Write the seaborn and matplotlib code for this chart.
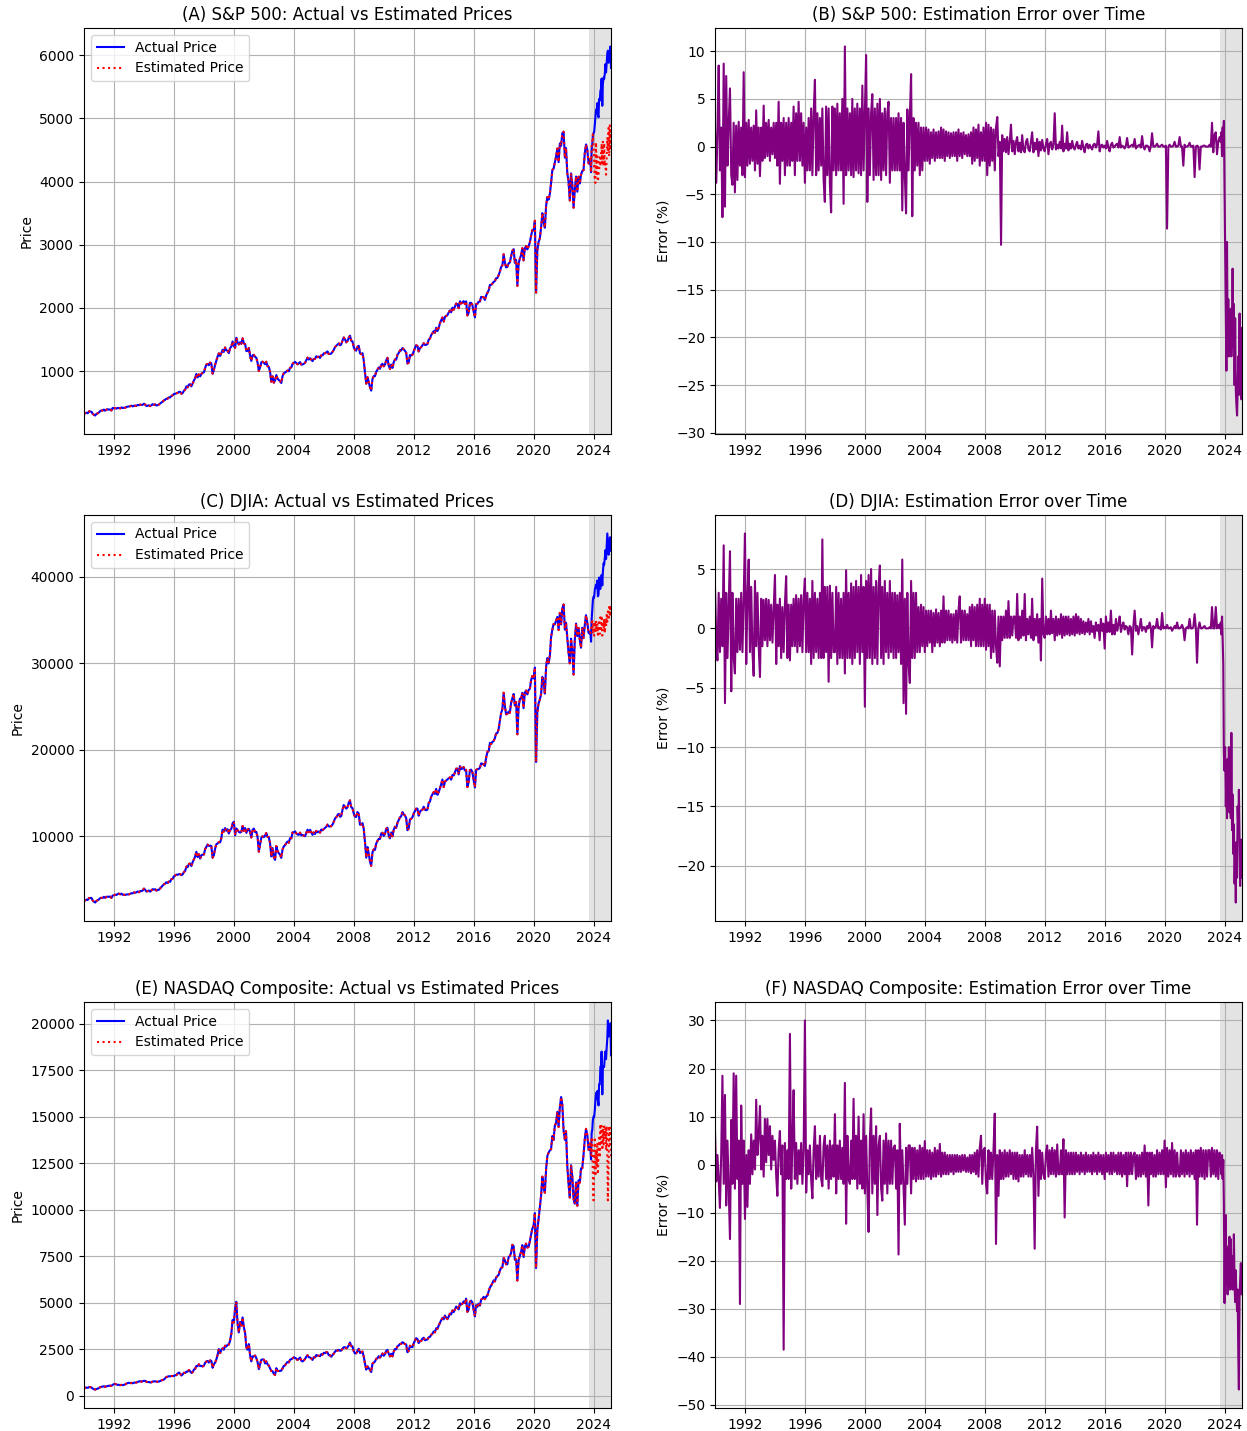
import numpy as np
import pandas as pd
import matplotlib
matplotlib.use("Agg")
import matplotlib.pyplot as plt
import matplotlib.dates as mdates
import seaborn as sns

# ---------------- dates ----------------
IN_DATES = pd.date_range("1990-01-01", "2023-09-01", freq="MS")      # monthly, in-sample
OOS_DATES = pd.date_range("2023-10-01", "2025-03-01", freq="SMS")    # semi-monthly, out-of-sample
SHADE_START = "2023-09-20"
X_START, X_END = "1990-01-01", "2025-03-01"

# ---------------- S&P 500 ----------------
SP_ACTUAL_IN = [
    329, 331, 340, 331, 361, 358, 356, 323, 306, 295, 322, 330,
    344, 367, 375, 375, 390, 371, 388, 395, 388, 392, 375, 417,
    409, 413, 404, 415, 415, 408, 424, 414, 418, 419, 431, 436,
    439, 443, 452, 440, 450, 451, 448, 464, 459, 468, 462, 466,
    482, 467, 446, 451, 457, 444, 458, 475, 463, 472, 454, 459,
    470, 487, 501, 515, 533, 545, 562, 562, 584, 582, 605, 616,
    636, 640, 646, 654, 669, 671, 640, 652, 687, 705, 757, 741,
    786, 791, 757, 801, 848, 885, 954, 899, 947, 915, 955, 970,
    980, 1049, 1102, 1112, 1091, 1134, 1121, 957, 1017, 1099, 1164, 1229,
    1280, 1238, 1286, 1335, 1302, 1373, 1329, 1320, 1283, 1363, 1389, 1469,
    1394, 1366, 1527, 1452, 1421, 1455, 1431, 1518, 1437, 1429, 1315, 1320,
    1366, 1240, 1160, 1249, 1256, 1224, 1211, 1134, 1000, 1060, 1139, 1148,
    1130, 1107, 1147, 1076, 1067, 990, 830, 916, 815, 850, 936, 880,
    856, 841, 810, 917, 964, 975, 990, 1008, 996, 1051, 1058, 1112,
    1131, 1145, 1126, 1107, 1121, 1141, 1102, 1104, 1115, 1130, 1174, 1212,
    1181, 1204, 1181, 1157, 1192, 1191, 1234, 1220, 1229, 1207, 1249, 1248,
    1280, 1281, 1295, 1311, 1270, 1270, 1277, 1304, 1336, 1378, 1401, 1418,
    1438, 1407, 1421, 1482, 1531, 1503, 1455, 1474, 1527, 1560, 1481, 1468,
    1379, 1331, 1323, 1386, 1400, 1280, 1267, 1283, 1166, 969, 800, 903,
    826, 735, 690, 873, 919, 919, 987, 1021, 1057, 1036, 1096, 1115,
    1074, 1104, 1169, 1210, 1089, 1031, 1102, 1049, 1141, 1183, 1181, 1258,
    1286, 1327, 1326, 1364, 1345, 1321, 1292, 1120, 1131, 1253, 1247, 1258,
    1312, 1366, 1408, 1398, 1310, 1362, 1379, 1407, 1441, 1412, 1416, 1426,
    1498, 1515, 1569, 1598, 1631, 1606, 1686, 1633, 1682, 1757, 1806, 1848,
    1783, 1859, 1872, 1884, 1924, 1960, 1931, 2003, 1972, 2018, 2068, 2059,
    1995, 2105, 2068, 2086, 2107, 2063, 2104, 1880, 1920, 2079, 2080, 2044,
    1940, 1850, 2060, 2065, 2097, 2099, 2174, 2171, 2168, 2126, 2199, 2239,
    2279, 2364, 2363, 2384, 2412, 2423, 2470, 2472, 2519, 2575, 2648, 2674,
    2850, 2714, 2641, 2648, 2705, 2718, 2816, 2902, 2930, 2712, 2760, 2350,
    2704, 2784, 2834, 2946, 2752, 2942, 2980, 2926, 2977, 3038, 3141, 3231,
    3226, 3380, 2240, 2912, 3044, 3100, 3271, 3500, 3363, 3270, 3622, 3756,
    3714, 3811, 3973, 4181, 4204, 4298, 4395, 4523, 4308, 4605, 4567, 4766,
    4790, 4380, 4530, 4132, 4000, 3700, 4130, 3955, 3586, 3872, 4080, 3840,
    4077, 3970, 4109, 4169, 4180, 4450, 4589, 4508, 4288,
]
SP_ACTUAL_OOS = [4288, 4330, 4150, 4500, 4594, 4719, 4770, 4784, 4906, 5029, 5137, 5117,
                 5243, 5061, 5018, 5308, 5283, 5432, 5475, 5631, 5200, 5543, 5648, 5626,
                 5709, 5859, 5728, 5870, 6032, 6074, 5882, 5950, 6040, 6140, 5800]
SP_EST_OOS = [4310, 4395, 4150, 4590, 4630, 4750, 4530, 4210, 4020, 3980, 4620, 4090,
              4400, 4000, 4115, 4190, 4385, 4240, 4435, 4600, 4300, 4630, 4240, 4610,
              4250, 4280, 4110, 4370, 4700, 4500, 4850, 4400, 4890, 4500, 4800]
SP_ERR_IN = [
    2.0, -3.8, 1.5, 8.5, -2.5, 2.0, -7.4, 8.7, -6.3, 7.4, -2.0, 2.5,
    6.1, -3.0, -4.0, 2.5, -4.8, 2.2, -3.5, 2.6, -2.0, 2.0, -3.0, 7.8,
    -3.2, 2.5, -2.0, 2.8, -1.8, 2.0, -1.5, 2.2, -2.5, 3.8, -1.8, 2.0,
    -3.1, 2.0, -1.5, 4.3, -1.2, 2.5, -1.0, 2.8, -1.5, 2.0, -0.8, 2.5,
    -1.2, 2.5, -2.0, 4.7, -3.9, 2.5, -1.5, 3.0, -3.0, 2.5, -2.0, 3.0,
    -2.0, 2.5, -1.5, 4.2, -3.0, 3.5, -1.5, 4.7, -1.5, 3.5, -2.0, 2.5,
    -3.8, 2.0, -2.5, 3.0, -2.5, 4.0, -3.0, 3.5, 7.0, -3.0, 3.5, -2.5,
    3.0, -2.0, 4.0, -3.5, -5.8, 4.2, -3.0, 4.0, -4.0, -6.9, 4.2, -2.5,
    4.0, -3.0, 4.5, -2.5, 3.5, -2.5, 5.0, -6.0, 10.5, -3.0, 4.0, -2.5,
    3.5, -3.0, 5.0, -3.2, 4.0, -2.5, 4.5, -2.8, 4.0, -3.0, 6.4, -2.5,
    3.5, 9.6, -5.8, 4.0, -3.0, 3.5, 5.5, -3.5, 4.0, -3.0, 4.5, -3.0,
    5.0, -3.5, 3.5, -2.5, 4.0, -3.0, 3.5, 4.7, -3.8, 3.0, -2.5, 3.0,
    -2.5, 3.0, -2.5, 3.5, -2.5, 3.0, -6.7, 2.5, -3.0, -7.0, 3.9, -2.5,
    3.0, 7.6, -7.3, 3.0, -2.5, 2.5, -2.0, 2.5, -3.0, 2.0, -2.5, 2.0,
    -1.5, 2.0, -1.5, 1.8, -1.8, 1.5, -1.2, 1.8, -1.5, 1.5, -1.2, 1.6,
    -1.2, 2.0, -1.2, 1.8, -1.5, 1.6, -1.0, 1.5, -1.2, 1.4, -1.0, 1.5,
    -1.0, 1.5, -1.5, 1.8, -1.0, 1.4, -1.2, 1.5, -0.8, 1.2, -1.0, 1.3,
    -1.0, 1.5, -1.8, 2.0, -1.5, 1.8, -1.2, 2.3, -2.0, 1.5, -1.5, 2.0,
    -1.5, 2.5, -3.0, 2.3, -2.0, 2.0, -1.5, 1.8, -2.5, 2.0, 3.1, -1.0,
    0.5, -10.3, 1.2, -0.5, 0.8, -0.6, 1.0, -0.8, 0.5, 2.3, -0.5, 0.6,
    -0.8, 0.5, 1.0, -0.5, 0.4, -0.6, 1.2, -0.4, -0.6, 0.5, 0.8, -0.3,
    -0.5, 0.6, 1.5, -0.6, 0.4, -0.3, 0.8, -1.0, 0.5, -0.4, 0.7, -0.2,
    -0.5, 0.3, 0.8, -0.8, 0.3, 0.5, -0.3, 0.2, 3.5, -0.3, 0.2, -0.2,
    0.5, -0.2, 2.2, -0.5, 0.3, -0.2, 1.5, -0.4, 0.3, -0.2, 0.6, -0.1,
    -0.3, 0.2, 0.5, -0.2, 0.1, -0.3, 0.6, -0.1, -0.6, 0.2, 0.3, -0.2,
    0.2, -0.1, -0.3, 0.2, 0.3, -0.1, 0.2, 1.6, -0.5, 0.1, 0.2, -0.1,
    0.1, -0.2, 0.6, -0.1, -0.5, 0.2, 0.4, -0.1, 0.0, 0.2, 0.3, -0.1,
    1.0, -0.1, 0.1, 0.0, -0.2, 0.1, 0.9, -0.1, 0.0, 0.1, 0.2, 0.0,
    0.8, -0.2, 0.0, 0.1, 0.2, -0.1, 1.1, 0.0, -0.3, 0.1, 0.1, 0.0,
    -0.5, 0.1, 1.4, 0.0, 0.0, 0.1, 0.3, 0.0, 0.0, 0.1, 0.2, 0.0,
    0.0, 0.1, -8.6, 0.0, 0.2, 0.0, 0.0, 0.1, 0.5, 0.0, 0.0, 0.1,
    1.0, 0.0, 0.0, -2.0, 0.2, 0.0, 0.0, 0.1, 0.4, 0.0, 0.0, 0.1,
    -3.2, 0.0, 0.1, 0.0, -2.4, 0.0, 0.0, 0.1, 0.1, 0.0, 0.0, 0.0,
    0.2, 0.0, 2.5, -0.6, 1.2, 1.5, -0.8, 0.5, 1.0,
]
SP_ERR_OOS = [0.5, 1.5, -1.0, 2.0, 0.8, 2.7, -5.0, -12.0, -18.0, -23.5, -10.0, -20.0,
              -16.0, -22.0, -18.0, -21.0, -17.0, -22.0, -19.0, -12.8, -21.0, -16.5, -25.0, -18.0,
              -25.5, -27.0, -28.2, -25.5, -22.0, -26.0, -17.5, -26.0, -19.0, -26.5, -21.0]

# ---------------- DJIA ----------------
DJ_ACTUAL_IN = [
    2591, 2627, 2707, 2657, 2877, 2881, 2905, 2614, 2453, 2365, 2560, 2634,
    2736, 2882, 2914, 2888, 3028, 2907, 3025, 3044, 3017, 3069, 2895, 3169,
    3224, 3267, 3236, 3359, 3397, 3319, 3394, 3257, 3272, 3226, 3305, 3301,
    3310, 3371, 3435, 3428, 3527, 3516, 3540, 3651, 3555, 3681, 3684, 3754,
    3978, 3832, 3636, 3682, 3758, 3625, 3765, 3914, 3843, 3908, 3739, 3834,
    3844, 4011, 4158, 4321, 4465, 4556, 4709, 4611, 4789, 4756, 5075, 5117,
    5395, 5486, 5588, 5569, 5643, 5655, 5529, 5616, 5882, 6029, 6522, 6448,
    6813, 6878, 6584, 7009, 7331, 7673, 8223, 7622, 7945, 7442, 7823, 7908,
    7907, 8546, 8800, 9063, 8900, 8952, 8883, 7539, 7843, 8592, 9117, 9181,
    9359, 9307, 9786, 10789, 10560, 10971, 10655, 10829, 10337, 10730, 10878, 11497,
    11700, 10128, 10922, 10734, 10522, 10448, 10522, 11215, 10651, 10971, 10415, 10787,
    10887, 10495, 9879, 10735, 10912, 10502, 10523, 9950, 8235, 9075, 9852, 10022,
    9920, 10106, 10404, 9946, 9925, 9243, 7700, 8664, 7592, 7286, 8896, 8342,
    8054, 7891, 7524, 8480, 8850, 8985, 9234, 9416, 9275, 9801, 9782, 10454,
    10488, 10584, 10358, 10226, 10188, 10435, 10140, 10174, 10080, 10027, 10428, 10783,
    10490, 10766, 10504, 10193, 10467, 10275, 10641, 10482, 10569, 10440, 10806, 10718,
    10865, 10993, 11109, 11367, 11168, 11150, 11186, 11381, 11679, 12081, 12222, 12463,
    12622, 12269, 12354, 13063, 13628, 13409, 13212, 13358, 13896, 14165, 13372, 13265,
    12650, 12266, 12263, 12820, 12638, 11350, 11378, 11544, 10851, 9325, 7552, 8776,
    8001, 7063, 6600, 8168, 8500, 8447, 9172, 9496, 9712, 9713, 10345, 10428,
    10067, 10325, 10857, 11009, 10137, 9774, 10466, 10015, 10788, 11118, 11006, 11578,
    11892, 12226, 12320, 12811, 12570, 12414, 12143, 10720, 10913, 11955, 12046, 12218,
    12633, 12952, 13212, 13214, 12393, 12880, 13009, 13091, 13437, 13096, 13026, 13104,
    13861, 14054, 14579, 14840, 15116, 14910, 15500, 14810, 15130, 15546, 16086, 16577,
    15699, 16322, 16458, 16581, 16717, 16827, 16563, 17098, 17043, 17391, 17828, 17823,
    17165, 18133, 17776, 17841, 18011, 17620, 17690, 15700, 16285, 17664, 17720, 17425,
    16466, 15660, 17685, 17774, 17787, 17930, 18432, 18401, 18308, 18142, 19124, 19763,
    19864, 20812, 20663, 20941, 21009, 21350, 21891, 21948, 22405, 23377, 24272, 24719,
    26600, 25029, 24103, 24163, 24416, 24271, 25415, 25965, 26458, 25116, 25538, 21800,
    24999, 25916, 25929, 26593, 24815, 26600, 26864, 26403, 26917, 27046, 28051, 28538,
    28256, 29500, 18600, 24346, 25383, 25813, 26428, 28430, 27782, 26502, 29639, 30606,
    29983, 30932, 32982, 33875, 34529, 34503, 34935, 35361, 33844, 35820, 34484, 36338,
    36800, 33893, 34678, 32977, 31250, 30000, 32845, 31510, 28700, 32733, 34590, 33147,
    34086, 32657, 31800, 34098, 32908, 34408, 35560, 34722, 33508,
]
DJ_ACTUAL_OOS = [33433, 33670, 32500, 34991, 36245, 37305, 37690, 37593, 38519, 38773, 39087, 38715,
                 39567, 37735, 37903, 39908, 38686, 38589, 39170, 40212, 39000, 40563, 41563, 41393,
                 42156, 43077, 42052, 43444, 45000, 43828, 42544, 43221, 44544, 44546, 43000]
DJ_EST_OOS = [33600, 33500, 33600, 34600, 35100, 33400, 34500, 33200, 34800, 33500, 34900, 33800,
              34600, 33300, 34200, 35000, 33400, 35300, 34000, 35500, 33200, 34800, 34000, 35200,
              33500, 35000, 34300, 35600, 34800, 36000, 35000, 36500, 35400, 36700, 35800]
DJ_ERR_IN = [
    3.5, -1.0, -2.7, 3.0, -2.0, 2.5, -1.5, 7.0, -6.3, 3.0, -2.5, 2.0,
    6.5, -5.3, 3.0, -2.5, -3.8, 2.5, -2.0, 2.5, -1.8, 3.0, -2.0, 2.5,
    8.0, -3.0, 2.5, 5.8, -2.0, 3.5, -2.0, -4.0, 4.0, -1.5, 3.0, -1.5,
    -4.1, 2.5, -1.5, 2.4, -1.0, 2.5, -1.5, 2.4, -1.0, 2.0, -1.2, 1.5,
    4.5, -3.0, 2.0, -1.5, 2.5, -2.5, 1.8, -2.0, 2.0, 4.4, -2.5, 2.0,
    -2.7, 2.0, -1.5, 2.5, -1.5, 2.8, -2.0, 2.5, -1.5, 2.8, -2.0, 2.5,
    4.2, -2.0, 3.0, -2.0, 2.5, -3.0, 4.0, -2.5, 3.0, -2.0, 2.5, -2.5,
    3.0, -2.5, 7.5, -2.5, 3.5, -2.0, 3.5, -4.5, 3.6, -2.5, 3.0, -2.0,
    -2.0, 3.5, -3.0, 3.0, -2.5, 2.5, -2.5, 3.0, -3.8, 4.9, -2.5, 3.0,
    -2.5, 3.8, -3.0, 3.5, -2.5, 4.0, -2.0, 3.5, -3.0, 4.5, -2.0, 3.5,
    -6.6, 4.0, -2.5, 4.5, -2.5, 5.0, -3.0, 3.5, -2.5, 4.0, -3.0, 3.5,
    5.3, -2.5, 3.5, -3.0, 4.0, -2.0, 3.0, -2.5, 4.0, -2.0, 3.0, -2.5,
    3.0, -2.5, 2.8, -2.0, 3.0, -3.0, 5.8, -6.3, 2.5, -7.2, 3.0, -3.0,
    -4.6, 4.0, -2.5, 3.0, -2.5, 3.0, -2.0, 1.8, -2.0, 2.0, -1.5, 1.8,
    -2.0, 1.5, -1.5, 1.5, -1.2, 1.5, -2.0, 1.3, -1.5, 1.6, -1.2, 1.3,
    -1.5, 1.5, -1.2, 2.7, -1.2, 1.5, -1.0, 1.5, -1.0, 1.2, -1.2, 1.2,
    -1.0, 1.5, -1.2, 1.5, 2.7, -1.2, 1.5, -1.0, 1.5, -1.0, 1.2, -1.0,
    1.8, -1.5, 2.0, -1.0, 1.8, -1.5, 2.0, -1.5, 2.5, -1.5, 2.0, -1.5,
    2.5, -1.8, 2.0, -1.5, 2.0, -2.5, 1.5, -2.0, 1.5, -1.5, -2.9, 1.0,
    -3.2, 1.0, -1.0, 1.0, -0.8, 1.5, -0.8, 2.3, -0.8, 1.0, -0.6, 1.0,
    1.0, -0.8, 2.9, -1.0, 1.0, -0.8, 1.5, -0.6, 2.9, -1.0, 0.8, -0.5,
    1.0, -0.8, 2.5, -1.0, 0.8, -0.6, 1.2, -1.2, 0.8, -2.7, 4.2, -0.5,
    -0.8, 1.0, -0.5, 0.8, -0.5, 1.5, -0.4, 0.8, -1.0, 1.0, -0.6, 0.8,
    -0.5, 1.2, -0.8, 1.0, -0.6, 1.0, -0.5, 1.0, -0.6, 0.8, -0.5, 1.0,
    -0.6, 1.2, -0.4, 1.0, -0.5, 0.8, -0.4, 0.6, -0.5, 0.5, -0.3, 0.8,
    -0.5, 0.6, -0.3, 0.2, -0.8, 0.5, -0.2, 0.3, -1.0, 0.8, -0.2, 0.4,
    -1.7, 1.0, -0.3, 0.5, -0.3, 1.5, -0.5, 0.3, -0.5, 0.8, -0.2, 0.3,
    1.0, -0.3, 0.2, 0.5, -0.1, 0.2, 0.1, -0.5, 0.2, 0.1, -2.2, 0.2,
    1.5, -0.2, 0.2, -0.5, 0.1, 0.8, -0.2, 0.1, 0.1, -0.3, 0.2, 0.0,
    0.5, 0.0, -1.6, 0.2, 0.0, 0.1, 0.8, 0.0, 0.1, -0.1, 1.3, 0.0,
    0.1, 0.0, 0.3, 0.0, 0.0, 0.1, -0.2, 0.0, 0.2, 0.0, 0.5, 0.0,
    0.0, 0.1, 0.3, 0.0, -1.0, 0.0, 0.1, 0.0, 0.8, 0.0, 0.0, 0.1,
    1.2, 0.0, -2.9, 0.0, 0.5, 0.0, 0.0, 0.1, 0.2, 0.0, 0.0, 0.0,
    0.1, 0.0, 1.8, 0.0, 0.0, 1.8, 0.0, 0.3, 0.0,
]
DJ_ERR_OOS = [0.5, -0.5, 1.0, -1.0, -3.0, -10.5, -12.0, -10.0, -15.0, -12.0, -16.0, -11.0,
              -14.5, -10.0, -15.5, -12.5, -16.0, -8.8, -17.0, -14.0, -19.0, -16.5, -21.5, -19.0,
              -23.1, -18.0, -21.0, -15.0, -17.0, -13.6, -18.0, -21.7, -17.8, -21.0, -19.0]

# ---------------- NASDAQ Composite ----------------
NQ_ACTUAL_IN = [
    416, 426, 435, 420, 458, 462, 438, 381, 345, 329, 359, 374,
    414, 453, 482, 484, 506, 475, 502, 525, 527, 542, 523, 586,
    620, 633, 603, 579, 585, 563, 581, 563, 583, 605, 652, 677,
    696, 671, 690, 661, 700, 704, 705, 743, 763, 779, 754, 777,
    800, 793, 743, 733, 736, 706, 722, 765, 764, 777, 750, 752,
    755, 794, 817, 843, 865, 933, 1001, 1020, 1044, 1036, 1059, 1052,
    1060, 1100, 1101, 1191, 1243, 1185, 1081, 1141, 1227, 1222, 1293, 1291,
    1380, 1309, 1222, 1261, 1400, 1442, 1594, 1587, 1686, 1594, 1601, 1570,
    1619, 1771, 1835, 1869, 1779, 1895, 1873, 1499, 1694, 1771, 1950, 2193,
    2506, 2288, 2461, 2543, 2471, 2686, 2638, 2739, 2746, 2966, 3336, 4069,
    3940, 4697, 5048, 3861, 3401, 3966, 3767, 4206, 3673, 3370, 2598, 2471,
    2773, 2152, 1840, 2116, 2110, 2161, 2027, 1805, 1423, 1690, 1931, 1950,
    1934, 1731, 1845, 1688, 1616, 1463, 1328, 1315, 1172, 1114, 1479, 1336,
    1321, 1338, 1341, 1464, 1596, 1623, 1735, 1810, 1787, 1932, 1960, 2003,
    2066, 2030, 1994, 1920, 1987, 2048, 1887, 1838, 1897, 1975, 2097, 2175,
    2062, 2052, 1999, 1922, 2068, 2057, 2185, 2152, 2151, 2120, 2233, 2205,
    2306, 2281, 2340, 2323, 2179, 2172, 2091, 2184, 2258, 2367, 2432, 2415,
    2464, 2416, 2422, 2525, 2605, 2603, 2546, 2596, 2702, 2859, 2661, 2652,
    2390, 2271, 2279, 2413, 2523, 2293, 2326, 2368, 2092, 1721, 1400, 1577,
    1476, 1378, 1268, 1717, 1774, 1835, 1979, 2009, 2122, 2045, 2145, 2269,
    2147, 2238, 2398, 2461, 2257, 2109, 2255, 2114, 2369, 2507, 2498, 2653,
    2700, 2782, 2781, 2874, 2835, 2774, 2756, 2335, 2415, 2684, 2620, 2605,
    2814, 2967, 3092, 3046, 2827, 2935, 2940, 3067, 3116, 2977, 3010, 3020,
    3142, 3160, 3268, 3329, 3456, 3403, 3626, 3590, 3771, 3920, 4060, 4177,
    4104, 4308, 4199, 4115, 4243, 4408, 4370, 4580, 4493, 4631, 4792, 4736,
    4635, 4964, 4901, 4941, 5070, 4987, 5218, 4506, 4620, 5054, 5109, 5007,
    4614, 4266, 4870, 4775, 4948, 4843, 5162, 5213, 5312, 5189, 5324, 5383,
    5615, 5825, 5912, 6048, 6199, 6140, 6348, 6429, 6496, 6728, 6874, 6903,
    7411, 7273, 7063, 7066, 7442, 7510, 7672, 8110, 8046, 7306, 7331, 6190,
    7282, 7533, 7729, 8095, 7453, 8006, 8175, 7963, 7999, 8292, 8665, 8973,
    9151, 9817, 6860, 8890, 9490, 10059, 10745, 11775, 11168, 10912, 12199, 12888,
    13071, 13192, 13247, 13962, 13749, 14504, 14673, 15259, 14449, 15498, 16057, 15645,
    14240, 13751, 14221, 12335, 11400, 10650, 12391, 11816, 10576, 10321, 11468, 10213,
    11585, 11456, 12222, 12227, 12935, 13788, 14346, 14035, 13219,
]
NQ_ACTUAL_OOS = [13219, 13407, 12700, 14104, 14305, 14814, 15011, 14973, 15361, 15859, 16275, 15973,
                 16379, 15885, 15605, 16742, 16735, 17689, 17733, 18500, 16200, 17594, 17714, 17683,
                 18189, 18502, 18095, 18680, 19218, 20174, 19311, 19511, 19627, 20027, 18300]
NQ_EST_OOS = [13400, 13700, 12900, 13900, 13200, 12000, 10500, 12600, 13900, 11800, 13200, 12300,
              13600, 11900, 13000, 14000, 12800, 14600, 13600, 14500, 13200, 14300, 13500, 14600,
              13800, 14400, 13200, 14500, 13000, 10500, 12500, 14500, 13500, 14400, 12800]
NQ_ERR_IN = [
    7.0, -3.5, 2.0, -3.0, -9.0, 2.0, 18.5, -4.0, 14.5, -8.5, 5.0, -5.0,
    -15.5, 9.3, -4.0, 19.0, -5.0, 18.5, -3.0, 5.0, -29.0, 12.3, -4.0, 5.0,
    -11.3, 2.0, -8.8, 3.0, -4.0, 6.3, -2.0, 5.0, -1.0, 13.5, 2.0, 6.0,
    12.2, -1.0, 6.0, -2.5, 9.5, 0.5, 9.5, 2.0, 8.0, -1.0, 6.0, 1.0,
    5.0, -2.5, -6.5, 3.0, 7.0, -2.0, 4.0, -38.5, 4.5, -3.0, 3.0, -3.0,
    27.2, -5.0, 4.0, 15.5, -3.0, 4.5, -4.0, 3.0, -2.0, 4.5, -4.0, 3.0,
    30.0, -5.8, 3.0, -2.0, 4.0, -3.0, -7.0, 3.0, 8.0, -3.0, 4.0, -2.5,
    6.0, -3.0, -4.5, 4.0, 6.0, -3.0, 4.0, -5.0, 5.0, -3.0, 4.0, -2.5,
    10.5, -6.0, 4.0, -3.0, 5.0, -3.0, 3.5, -4.0, 17.0, -12.3, 6.0, -3.0,
    -4.0, 5.0, -3.0, 13.7, -3.0, 6.0, -5.0, 10.0, -4.0, 5.0, -5.0, 10.5,
    -6.0, 6.0, -5.0, -14.0, 5.0, 11.7, -6.0, 6.0, -4.0, 8.0, -10.5, 4.0,
    6.0, -5.0, -7.5, 5.0, -4.0, 6.5, -6.0, 5.0, -4.0, 5.0, -4.0, 3.5,
    4.0, -5.0, 3.0, -18.7, 8.5, -4.0, 3.0, -5.0, -12.5, 3.5, -4.0, 4.0,
    4.0, -6.0, 3.5, -3.0, 3.5, -3.5, 3.0, -3.0, 4.0, -3.0, 3.5, -3.0,
    4.9, -2.5, 3.0, -2.5, 3.0, -3.0, 2.5, -2.5, 3.5, -2.5, 3.0, -2.0,
    4.3, -2.5, 2.5, -2.0, 2.5, -2.0, 2.0, -2.0, 2.0, -1.5, 2.0, -2.0,
    2.0, -1.5, 2.0, -1.5, 1.8, -1.5, 2.0, -1.2, 2.0, -1.5, 1.5, -1.5,
    2.0, -1.8, 2.0, -1.5, 2.5, -2.0, 3.0, -2.5, 3.5, 6.0, -4.0, 3.0,
    3.5, -4.0, -6.0, 3.0, -3.0, 2.5, -3.0, 3.0, 10.6, -16.5, 2.0, -6.5,
    3.0, -3.0, 2.5, -3.0, 3.0, -2.5, 2.5, -2.5, 3.0, -2.0, 2.5, -3.0,
    2.5, -3.0, 2.5, -3.5, 2.0, -2.5, 2.0, -2.5, 3.0, -2.0, 2.0, -2.5,
    2.0, -2.5, 3.5, -2.0, -17.5, 3.0, 7.9, -6.5, 3.0, -3.0, 2.5, -2.0,
    -3.0, 2.5, 4.0, -2.5, 3.0, -2.0, 3.5, -2.0, 3.0, -2.5, 4.2, -2.0,
    -2.0, 3.0, -2.0, 5.3, -11.0, 3.0, -2.0, 2.5, -2.0, 2.5, -2.0, 2.5,
    -2.0, 2.5, -1.5, 2.0, -2.0, 2.5, -1.5, 2.0, -2.0, 2.5, -1.5, 2.0,
    -1.5, 2.0, -2.0, 2.5, -1.5, 2.0, -2.0, 2.5, -1.5, 2.0, -2.0, 2.0,
    -3.0, 2.5, -1.5, 2.0, -2.0, 2.5, -2.0, 2.5, -1.5, 2.0, -2.0, 2.5,
    -2.0, 2.5, -2.5, 2.0, -2.0, 2.5, -4.5, 2.5, -2.0, 2.5, -2.0, 2.0,
    2.5, -3.0, 2.0, -2.5, 2.0, -2.5, 2.5, -2.0, 4.0, -2.5, 2.5, -8.5,
    2.5, -2.0, 2.5, -2.5, 2.0, -2.5, 3.0, -2.0, 2.5, -2.0, 3.0, -2.0,
    5.0, -4.7, 3.5, -2.5, 3.0, -2.0, 4.5, -2.5, 3.0, -2.5, 2.5, -2.0,
    -2.5, 3.0, -2.0, 2.5, -2.5, 3.0, -2.0, 2.5, -2.5, 3.0, -2.0, 2.5,
    -3.0, 3.0, -12.5, 3.0, -2.5, 3.5, -2.5, 3.0, -3.0, 3.0, -2.5, 3.0,
    3.0, -2.5, 3.5, -2.0, 3.0, -2.5, 3.0, -3.0, 2.5,
]
NQ_ERR_OOS = [1.0, -2.0, 2.0, -3.0, 1.0, -8.0, -28.8, -16.0, -10.5, -25.0, -18.0, -27.0,
              -17.0, -22.0, -15.0, -26.0, -15.5, -24.0, -19.0, -26.0, -23.0, -14.5, -25.0, -28.6,
              -22.0, -27.0, -30.5, -26.0, -40.0, -46.8, -27.0, -24.0, -20.5, -27.0, -25.0]

INDICES = [
    ("S&P 500", SP_ACTUAL_IN, SP_ACTUAL_OOS, SP_EST_OOS, SP_ERR_IN, SP_ERR_OOS),
    ("DJIA", DJ_ACTUAL_IN, DJ_ACTUAL_OOS, DJ_EST_OOS, DJ_ERR_IN, DJ_ERR_OOS),
    ("NASDAQ Composite", NQ_ACTUAL_IN, NQ_ACTUAL_OOS, NQ_EST_OOS, NQ_ERR_IN, NQ_ERR_OOS),
]
LETTERS = [("A", "B"), ("C", "D"), ("E", "F")]

# ---------------- figure ----------------
W, H = 1247, 1431
fig = plt.figure(figsize=(W / 100, H / 100), dpi=100)

col_left = [84, 715]
ax_w = 527
row_top = [28, 515, 1002]
ax_h = 406

all_dates = IN_DATES.append(OOS_DATES)


def style_time_axis(ax):
    ax.set_xlim(pd.Timestamp(X_START), pd.Timestamp(X_END))
    ax.xaxis.set_major_locator(mdates.YearLocator(4))
    ax.xaxis.set_major_formatter(mdates.DateFormatter("%Y"))
    ax.axvspan(pd.Timestamp(SHADE_START), pd.Timestamp(X_END), color="gray", alpha=0.22, lw=0)
    ax.grid(True)
    ax.set_xlabel("")


for r, (name, act_in, act_oos, est_oos, err_in, err_oos) in enumerate(INDICES):
    actual = list(act_in) + list(act_oos)
    estimated = list(act_in) + list(est_oos)
    error = list(err_in) + list(err_oos)
    assert len(actual) == len(all_dates), (name, len(actual), len(all_dates))
    assert len(error) == len(all_dates), (name, len(error), len(all_dates))

    la, lb = LETTERS[r]
    # price panel
    axp = fig.add_axes([col_left[0] / W, 1 - (row_top[r] + ax_h) / H, ax_w / W, ax_h / H])
    sns.lineplot(x=all_dates, y=actual, ax=axp, color="blue", linewidth=1.5,
                 label="Actual Price")
    sns.lineplot(x=all_dates, y=estimated, ax=axp, color="red", linewidth=1.5,
                 linestyle=":", label="Estimated Price")
    style_time_axis(axp)
    axp.set_title(f"({la}) {name}: Actual vs Estimated Prices", fontsize=12)
    axp.set_ylabel("Price")
    axp.legend(loc="upper left", fontsize=10)

    # error panel
    axe = fig.add_axes([col_left[1] / W, 1 - (row_top[r] + ax_h) / H, ax_w / W, ax_h / H])
    sns.lineplot(x=all_dates, y=error, ax=axe, color="purple", linewidth=1.5)
    style_time_axis(axe)
    axe.set_title(f"({lb}) {name}: Estimation Error over Time", fontsize=12)
    axe.set_ylabel("Error (%)")

fig.savefig("out.png", dpi=100)
